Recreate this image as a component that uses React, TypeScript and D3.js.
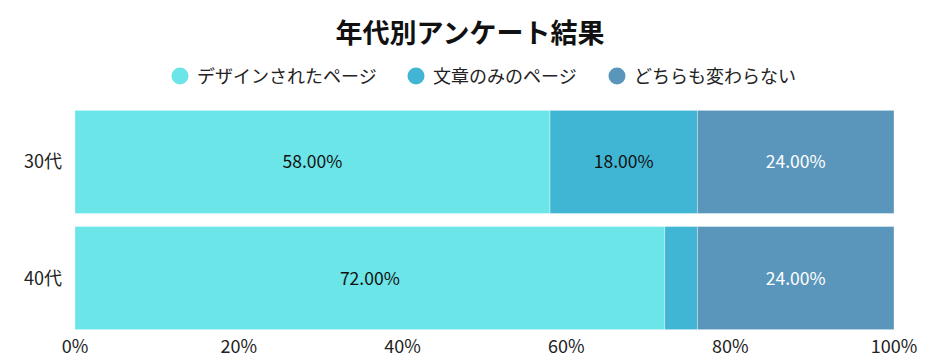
import React from 'react';
import * as d3 from 'd3';

const categories = ['30代', '40代'];
const seriesNames = ['デザインされたページ', '文章のみのページ', 'どちらも変わらない'];
const designed = [58, 72];
const textOnly = [18, 4];
const noDiff = [24, 24];
const tickValues = [0, 20, 40, 60, 80, 100];
const colors = ['#6ce5e8', '#41b6d4', '#5a96bb'];
const labelColors = ['#111', '#111', '#fff'];

const font = '"Noto Sans CJK JP", "Noto Sans", sans-serif';

function App() {
  const width = 940, height = 363;
  const margin = { top: 110, right: 46, bottom: 34, left: 75 };

  const x = d3.scaleLinear().domain([0, 100]).range([margin.left, width - margin.right]);
  const y = d3.scaleBand()
    .domain(categories)
    .range([margin.top - 6, height - margin.bottom + 7])
    .paddingInner(0.112)
    .paddingOuter(0.055);

  const rows = categories.map((c, i) => ({ cat: c, vals: [designed[i], textOnly[i], noDiff[i]] }));
  const stack = d3.stack<any>().keys(['0', '1', '2'])(rows.map(r => ({ '0': r.vals[0], '1': r.vals[1], '2': r.vals[2] })));

  const legendX = [180, 416, 617];

  return (
    <svg width={width} height={height} style={{ display: 'block', position: 'absolute', left: 0, top: 0 }}>
      <text x={470} y={43} textAnchor="middle" fontFamily={font} fontWeight={700} fontSize={27} fill="#111">
        年代別アンケート結果
      </text>
      {seriesNames.map((s, i) => (
        <g key={s}>
          <circle cx={legendX[i]} cy={76} r={8.5} fill={colors[i]} />
          <text x={legendX[i] + 17} y={82.5} fontFamily={font} fontSize={18} fill="#222">{s}</text>
        </g>
      ))}
      {stack.map((layer, si) => (
        <g key={si}>
          {layer.map((d, ci) => {
            const x0 = x(d[0]), x1 = x(d[1]);
            const yy = y(categories[ci])!;
            const v = d[1] - d[0];
            return (
              <g key={ci}>
                <rect x={x0} y={yy} width={x1 - x0} height={y.bandwidth()} fill={colors[si]}
                  stroke="rgba(255,255,255,0.35)" strokeWidth={1} />
                {v >= 10 && (
                  <text x={(x0 + x1) / 2} y={yy + y.bandwidth() / 2 + 6.5} textAnchor="middle"
                    fontFamily={font} fontSize={17.5} fill={labelColors[si]}>
                    {v.toFixed(2)}%
                  </text>
                )}
              </g>
            );
          })}
        </g>
      ))}
      {categories.map(c => (
        <text key={c} x={62} y={y(c)! + y.bandwidth() / 2 + 6.5} textAnchor="end" fontFamily={font} fontSize={18} fill="#222">{c}</text>
      ))}
      {tickValues.map(t => (
        <text key={t} x={x(t)} y={353} textAnchor="middle" fontFamily={font} fontSize={18} fill="#222">{t}%</text>
      ))}
    </svg>
  );
}

export default App;
